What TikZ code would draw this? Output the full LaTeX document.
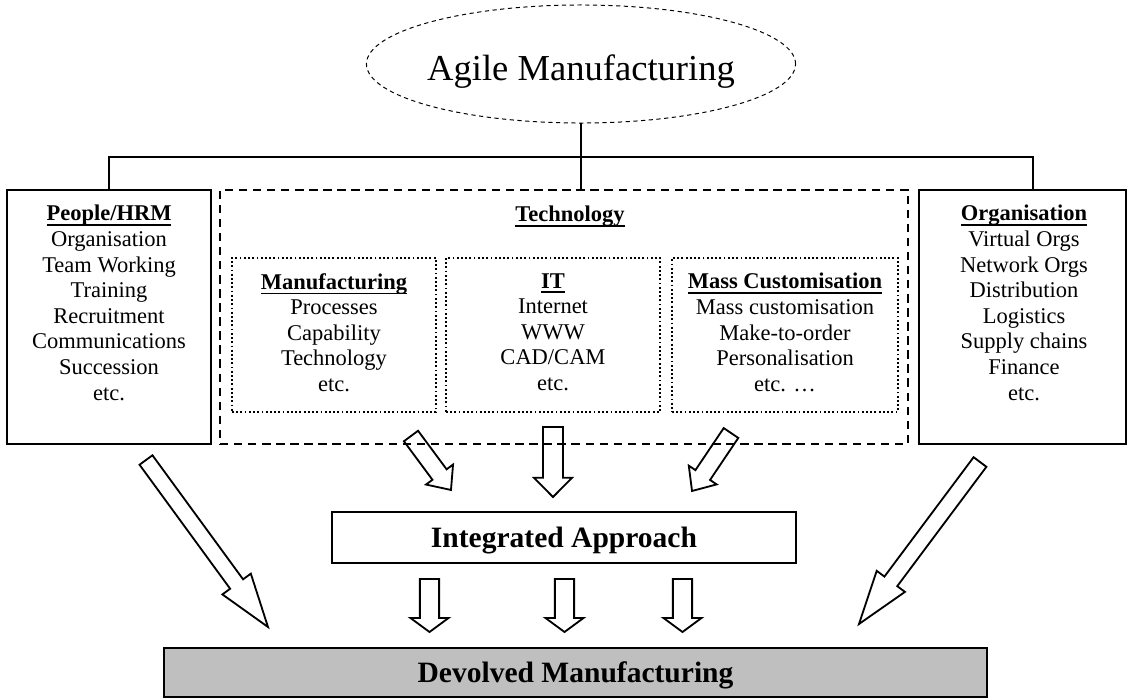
\documentclass[tikz,border=0pt]{standalone}
\usepackage{fontspec}
\setmainfont{Liberation Serif}
\usetikzlibrary{calc}

% bold heading with a fixed underline
\newcommand{\heading}[1]{\setbox0\hbox{\textbf{#1}}\rlap{\rule[-3.4pt]{\wd0}{1pt}}\box0}
% hollow block arrow: tail, tip, shaft half width, head half width, head length
\newcommand{\hollowarrow}[5]{%
  \draw[blockarrow] let \p1=(#1), \p2=(#2),
      \n1={atan2(\y2-\y1,\x2-\x1)}, \n2={veclen(\x2-\x1,\y2-\y1)} in
    [shift={(\p1)}, rotate=\n1]
    (0pt,-#3) -- ({\n2-#5},-#3) -- ({\n2-#5},-#4) -- (\n2,0pt)
    -- ({\n2-#5},#4) -- ({\n2-#5},#3) -- (0pt,#3) -- cycle;}

\tikzset{
  solidbox/.style={draw, line width=1.4pt, fill=white, inner sep=0pt},
  techbox/.style={draw, line width=1.4pt, dash pattern=on 6pt off 4pt, inner sep=0pt},
  subbox/.style={draw, line width=1.3pt, dash pattern=on 1.3pt off 1.7pt, fill=white, inner sep=0pt},
  listtext/.style={align=center, inner sep=0pt, anchor=north, font=\fontsize{16}{18.2}\selectfont},
  bigtext/.style={font=\fontsize{21}{24}\selectfont\bfseries, text depth=0pt},
  blockarrow/.style={line width=1.3pt, line join=miter},
  link/.style={line width=1.4pt},
}

\begin{document}
\begin{tikzpicture}[x=0.025cm, y=-0.025cm]
		%%%%% START %%%%%
		\useasboundingbox (0,0) rectangle (1127,698);
		
		\coordinate (agilemid) at (581,64);
		\coordinate (agilebottom) at (581,123);
		\draw[line width=0.7pt, dash pattern=on 3pt off 2.5pt] (agilemid) ellipse [x radius=5.3625cm, y radius=1.475cm];
		\node[anchor=base, inner sep=0pt, font=\fontsize{26}{30}\selectfont] (agile) at (581,80) {Agile Manufacturing};
		
		% three columns
		\node[solidbox, minimum width=5.1cm, minimum height=6.35cm] (hrm) at (109,317) {};
		\node[techbox, minimum width=17.2cm, minimum height=6.35cm] (tech) at (564,317) {};
		\node[solidbox, minimum width=5.175cm, minimum height=6.35cm] (org) at (1022.5,317) {};
		
		\node[listtext] (hrmtext) at ($(hrm.north)+(0,16)$) {\heading{People/HRM}\\Organisation\\Team Working\\Training\\Recruitment\\Communications\\Succession\\etc.};
		\node[listtext] (techtext) at (570,206) {\heading{Technology}};
		\node[listtext] (orgtext) at ($(org.north)+(1.5,16)$) {\heading{Organisation}\\Virtual Orgs\\Network Orgs\\Distribution\\Logistics\\Supply chains\\Finance\\etc.};
		
		% technology parts
		\node[subbox, minimum width=5.1cm, minimum height=3.85cm] (manu) at (334,335) {};
		\node[subbox, minimum width=5.35cm, minimum height=3.85cm] (it) at (553,335) {};
		\node[subbox, minimum width=5.65cm, minimum height=3.85cm] (mass) at (785,335) {};
		
		\node[listtext] (manutext) at ($(manu.north)+(0,16)$) {\heading{Manufacturing}\\Processes\\Capability\\Technology\\etc.};
		\node[listtext] (ittext) at ($(it.north)+(0,16)$) {\heading{IT}\\Internet\\WWW\\CAD/CAM\\etc.};
		\node[listtext] (masstext) at ($(mass.north)+(0,16)$) {\heading{Mass Customisation}\\Mass customisation\\Make-to-order\\Personalisation\\etc. …};
		
		% links from the top
		\coordinate (bar) at (581,157);
		\draw[link] (agilebottom) -- (agilebottom |- tech.north);
		\draw[link] (hrm.north) |- (bar) -| ([xshift=0.26cm]org.north);
		
		\node[solidbox, minimum width=11.6cm, minimum height=1.275cm, bigtext] (integ) at (564,537.5) {Integrated Approach};
		\node[solidbox, fill=black!25, minimum width=20.575cm, minimum height=1.225cm, bigtext] (devolved) at (575.5,672.5) {Devolved Manufacturing};
		
		% arrows
		\coordinate (hrmtail) at (146,460);  \coordinate (hrmtip) at (268,627);
		\coordinate (orgtail) at (980,462);  \coordinate (orgtip) at (859,624);
		\coordinate (manutail) at (411,436); \coordinate (manutip) at (451,490);
		\coordinate (ittail) at (553,427);   \coordinate (ittip) at (553,497);
		\coordinate (masstail) at (731,433); \coordinate (masstip) at (692,491);
		
		\hollowarrow{hrmtail}{hrmtip}{0.2cm}{0.44cm}{1.33cm}
		\hollowarrow{orgtail}{orgtip}{0.2cm}{0.44cm}{1.33cm}
		\hollowarrow{manutail}{manutip}{0.22cm}{0.42cm}{0.48cm}
		\hollowarrow{ittail}{ittip}{0.25cm}{0.475cm}{0.48cm}
		\hollowarrow{masstail}{masstip}{0.22cm}{0.42cm}{0.48cm}
		
		\foreach \ax in {429.5,564.5,682.5}{
			\hollowarrow{\ax,579}{\ax,632}{0.24cm}{0.475cm}{0.35cm}
		}
		
		%%%%% END %%%%%
\end{tikzpicture}
\end{document}
